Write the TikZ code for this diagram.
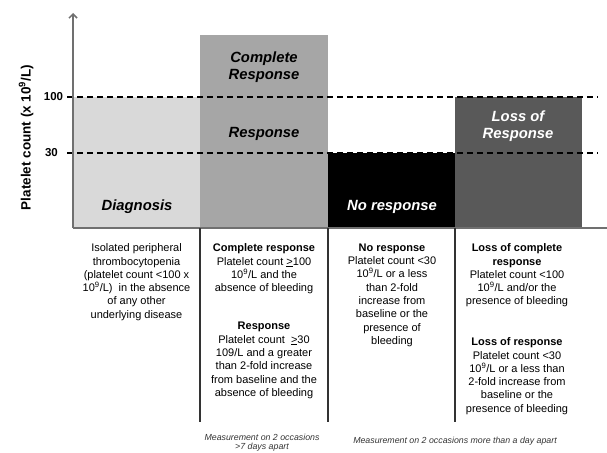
\documentclass[tikz,border=0pt]{standalone}
\usepackage{fontspec}
\setmainfont{Liberation Sans}
\usetikzlibrary{arrows.meta}
\definecolor{diaggrey}{HTML}{D9D9D9}
\definecolor{respgrey}{HTML}{A6A6A6}
\definecolor{lossgrey}{HTML}{595959}
\definecolor{axisgrey}{HTML}{707070}
\definecolor{sepgrey}{HTML}{333333}
\begin{document}
\begin{tikzpicture}[x=1pt,y=-1pt,
  barlabel/.style={font=\fontsize{14.8}{17.5}\selectfont\bfseries\itshape, align=center, inner sep=0pt},
  coltext/.style={font=\fontsize{11}{13.33}\selectfont, align=center, inner sep=0pt, anchor=north},
  ticklabel/.style={font=\fontsize{11.5}{13}\selectfont\bfseries, inner sep=0pt},
  notetext/.style={font=\fontsize{8.8}{9.3}\selectfont\itshape, align=center, inner sep=0pt, text=sepgrey},
  thresh/.style={line width=1.8pt, dash pattern=on 6pt off 4pt, black},
  sepline/.style={line width=1.4pt, sepgrey}
]
\useasboundingbox (0,0) rectangle (607,452);
% bars
\fill[diaggrey] (73,97) rectangle (200,228);
\fill[respgrey] (200,35) rectangle (328,228);
\fill[black] (328,153) rectangle (455,228);
\fill[lossgrey] (455,97) rectangle (582,228);
% threshold lines
\coordinate (t100a) at (67,97);
\coordinate (t100b) at (598,97);
\coordinate (t30a) at (67,153);
\coordinate (t30b) at (598,153);
\draw[thresh] (t100a) -- (t100b);
\draw[thresh] (t30a) -- (t30b);
% axes
\coordinate (origin) at (73,228);
\coordinate (ytop) at (73,13);
\coordinate (xend) at (607,228);
\draw[axisgrey, line width=1.5pt] (origin) -- (xend);
\draw[axisgrey, line width=1.5pt, -{Straight Barb[length=4pt,width=8pt,line width=1.5pt]}] (origin) -- (ytop);
% tick labels
\node[ticklabel] (l100) at (53.5,97) {100};
\node[ticklabel] (l30) at (51.5,153) {30};
% axis label
\node[font=\fontsize{13.5}{15}\selectfont\bfseries, rotate=90, inner sep=0pt] (ylab) at (26,137.5) {Platelet count (x 10\textsuperscript{9}/L)};
% bar labels
\node[barlabel] (diag) at (137,207) {Diagnosis};
\node[barlabel] (cresp) at (264,67) {Complete\\Response};
\node[barlabel] (resp) at (264,134) {Response};
\node[barlabel, text=white] (noresp) at (392,207) {No response};
\node[barlabel, text=white] (loss) at (518,126) {Loss of\\Response};
% separators
\coordinate (s1a) at (200,228); \coordinate (s1b) at (200,422);
\coordinate (s2a) at (328,228); \coordinate (s2b) at (328,422);
\coordinate (s3a) at (455,228); \coordinate (s3b) at (455,422);
\draw[sepline] (s1a) -- (s1b);
\draw[sepline] (s2a) -- (s2b);
\draw[sepline] (s3a) -- (s3b);
% column texts
\node[coltext] (c1) at (136.5,243.5) {Isolated peripheral\\thrombocytopenia\\(platelet count <100 x\\10\textsuperscript{9}/L)\ \ in the absence\\of any other\\underlying disease};
\node[coltext] (c2a) at (264,243.5) {\textbf{Complete response}\\Platelet count \underline{>}100\\10\textsuperscript{9}/L and the\\absence of bleeding};
\node[coltext] (c2b) at (264,322) {\textbf{Response}\\Platelet count\ \ \underline{>}30\\109/L and a greater\\than 2-fold increase\\from baseline and the\\absence of bleeding};
\node[coltext] (c3) at (392,243.5) {\textbf{No response}\\Platelet count <30\\10\textsuperscript{9}/L or a less\\than 2-fold\\increase from\\baseline or the\\presence of\\bleeding};
\node[coltext] (c4a) at (517,243.5) {\textbf{Loss of complete}\\\textbf{response}\\Platelet count <100\\10\textsuperscript{9}/L and/or the\\presence of bleeding};
\node[coltext] (c4b) at (517,337.5) {\textbf{Loss of response}\\Platelet count <30\\10\textsuperscript{9}/L or a less than\\2-fold increase from\\baseline or the\\presence of bleeding};
% notes
\node[notetext, anchor=south] (n1) at (262,451.5) {Measurement on 2 occasions\\>7 days apart};
\node[notetext] (n2) at (455,441) {Measurement on 2 occasions more than a day apart};
\end{tikzpicture}
\end{document}
